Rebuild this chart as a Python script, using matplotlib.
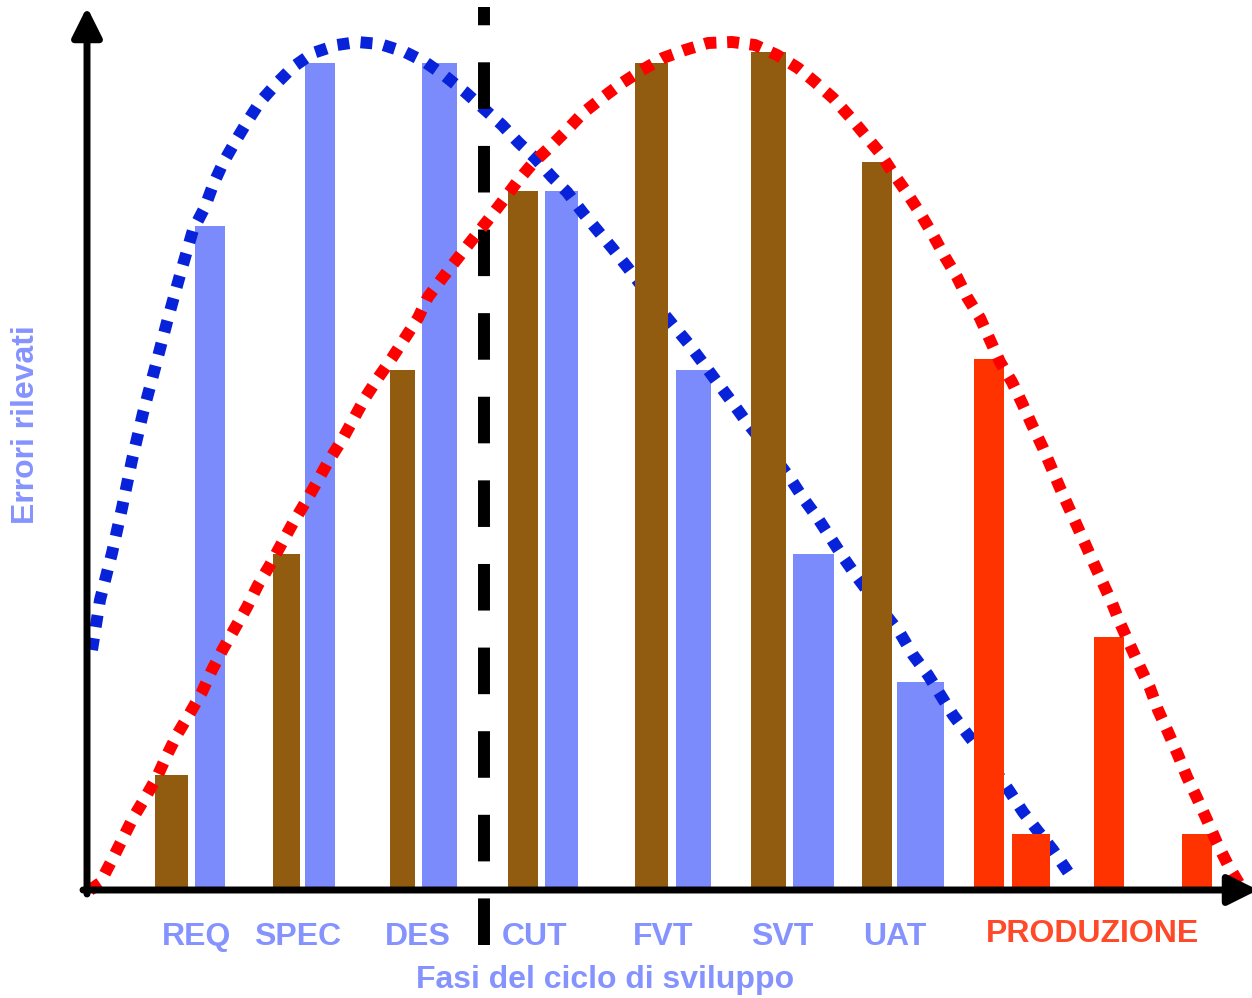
import matplotlib
matplotlib.use('Agg')
import matplotlib.pyplot as plt

plt.rcParams['font.family'] = ['Liberation Sans', 'DejaVu Sans']

# phases on the x axis
phases = ['REQ', 'SPEC', 'DES', 'CUT', 'FVT', 'SVT', 'UAT']
prod_label = 'PRODUZIONE'

# errors found per phase (heights above the x axis)
errors_injected = [113, 334, 518, 697, 825, 836, 726]   # brown
errors_found = [662, 825, 825, 697, 518, 334, 206]      # light blue
errors_prod = [529, 54, 251, 54]                        # red, in production

# dotted trend curves (x, height)
blue_x = [92, 100, 112, 122, 132, 143, 155, 167, 180, 193, 205, 213, 223, 235, 247, 260,
          277, 293, 313, 337, 357, 380, 405, 425, 445, 465, 483, 502, 518, 535, 552, 567,
          583, 598, 613, 628, 650, 673, 688, 703, 717, 732, 745, 768, 790, 803, 817, 830,
          843, 857, 878, 900, 913, 928, 953, 968, 990, 1010, 1023, 1037, 1053, 1070]
blue_y = [238, 288, 335, 380, 428, 475, 520, 566, 613, 658, 681, 703, 725, 746, 766, 786,
          805, 821, 835, 843, 846, 844, 836, 826, 812, 796, 780, 763, 746, 730, 711, 696,
          675, 657, 639, 620, 591, 563, 545, 525, 506, 486, 468, 439, 410, 390, 371, 351,
          331, 311, 283, 255, 233, 213, 173, 153, 125, 96, 76, 58, 38, 13]

red_x = [90, 100, 112, 122, 133, 145, 157, 167, 178, 190, 202, 212, 223, 235, 247, 258,
         270, 282, 293, 305, 317, 328, 342, 353, 365, 378, 392, 405, 418, 428, 450, 472,
         488, 502, 517, 533, 550, 567, 583, 602, 622, 642, 663, 685, 708, 732, 755, 777,
         798, 815, 833, 850, 865, 880, 893, 907, 920, 933, 945, 957, 967, 980, 990, 1000,
         1012, 1022, 1032, 1043, 1060, 1078, 1095, 1112, 1120, 1130, 1140, 1150, 1158, 1168,
         1178, 1187, 1197, 1207, 1217, 1228, 1240, 1246]
red_y = [-2, 5, 28, 48, 70, 90, 111, 133, 155, 175, 196, 218, 239, 260, 281, 303,
         323, 345, 365, 385, 406, 426, 448, 468, 490, 510, 530, 550, 570, 591, 620, 648,
         668, 686, 706, 725, 741, 758, 775, 790, 805, 818, 830, 838, 845, 846, 843, 833,
         820, 806, 790, 771, 753, 735, 715, 695, 675, 653, 631, 611, 591, 570, 548, 526,
         506, 485, 463, 440, 400, 360, 322, 285, 265, 243, 221, 200, 178, 156,
         133, 111, 90, 68, 45, 23, 3, -4]

# layout (x positions / widths of bars and labels)
brown_pos = [171.5, 286.5, 402.5, 523, 651.5, 768.5, 877]
brown_w = [33, 27, 25, 30, 33, 35, 30]
blue_pos = [210, 320, 439.5, 561.5, 693.5, 813.5, 920.5]
blue_w = [30, 30, 35, 33, 35, 41, 47]
prod_pos = [989, 1031, 1109, 1197]
prod_w = [30, 38, 30, 30]
label_pos = [197, 298, 418, 535, 663, 782, 895]

fig = plt.figure(figsize=(12.52, 9.98), dpi=100)
ax = fig.add_axes([0, 0, 1, 1])
ax.set_xlim(0, 1252)
ax.set_ylim(-110, 888)
ax.axis('off')

ax.bar(blue_pos, errors_found, width=blue_w, color='#7B8BFB', zorder=1)
ax.plot(blue_x, blue_y, color='#0722D8', lw=8.6, linestyle=(0, (1, 0.95)), zorder=2)
ax.bar(brown_pos, errors_injected, width=brown_w, color='#915C0F', zorder=3)
ax.bar(prod_pos, errors_prod, width=prod_w, color='#FF3300', zorder=3)

# release line
ax.plot([484, 484], [-57, 881], color='black', lw=8.6, linestyle=(0, (3.9, 3.1)), zorder=3.5)

ax.plot(red_x, red_y, color='#FF0000', lw=8.6, linestyle=(0, (1, 0.9)), zorder=4)

# axes with arrows
arrow = dict(arrowstyle='-|>,head_length=0.9,head_width=0.45',
             mutation_scale=20, lw=5, color='black', shrinkA=0, shrinkB=0)
ax.annotate('', xy=(87, 881), xytext=(87, -6), arrowprops=arrow,
            annotation_clip=False, zorder=5)
ax.annotate('', xy=(1258, -2), xytext=(83, -2), arrowprops=arrow,
            annotation_clip=False, zorder=5)

for p, lab in zip(label_pos, phases):
    ax.text(p, -49, lab, ha='center', va='center', fontsize=23, fontweight='bold', color='#8593FF')
ax.text(1092, -46, prod_label, ha='center', va='center', fontsize=23, fontweight='bold', color='#FF4A2A')

ax.text(605, -92, 'Fasi del ciclo di sviluppo', ha='center', va='center',
        fontsize=23, fontweight='bold', color='#8593FF')
ax.text(26, 463, 'Errori rilevati', ha='center', va='center', rotation=90,
        fontsize=23, fontweight='bold', color='#8593FF')

fig.savefig('out.png', dpi=100)
